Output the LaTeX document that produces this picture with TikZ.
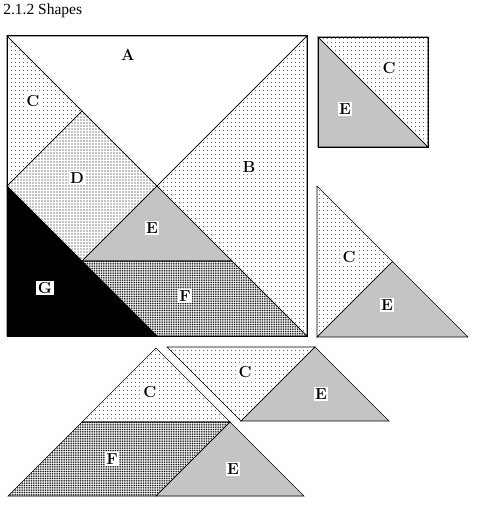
\documentclass[tikz,border=0pt]{standalone}
\usepackage{fontspec}
\newfontfamily\titlefont{Liberation Serif}
\usetikzlibrary{patterns.meta}

\begin{document}
\begin{tikzpicture}[x=1pt,y=-1pt,line width=0.6pt,
                every node/.style={fill=white,inner sep=1.5pt,font=\fontsize{16}{16}\selectfont\bfseries},
                sparse/.style={pattern={Dots[distance=4pt,radius=0.56pt]}},
                medium/.style={pattern={Dots[distance=3pt,radius=0.65pt]}},
                dense/.style={pattern={Dots[distance=2pt,radius=0.56pt]}},
                densest/.style={pattern={Dots[distance=1.75pt,radius=0.56pt]}}]
                \useasboundingbox (0,0) rectangle (482,510);
                \node[anchor=base west,inner sep=0pt,font=\titlefont\fontsize{15.5}{16}\selectfont] (title) at (3,15) {2.1.2 Shapes};

                % big square
                \coordinate (O) at (7,36);   \coordinate (P) at (307,36);
                \coordinate (Q) at (307,336); \coordinate (R) at (7,336);
                \coordinate (M) at (157,186); \coordinate (L) at (7,186);
                \coordinate (N) at (82,111);  \coordinate (K) at (82,261);
                \coordinate (J) at (232,261); \coordinate (H) at (157,336);
                \draw (O) -- (P) -- (M) -- cycle;
                \draw[sparse] (P) -- (Q) -- (M) -- cycle;
                \draw[sparse] (O) -- (N) -- (L) -- cycle;
                \draw[medium] (L) -- (N) -- (M) -- (K) -- cycle;
                \draw[dense] (M) -- (K) -- (J) -- cycle;
                \draw[densest] (K) -- (J) -- (Q) -- (H) -- cycle;
                \draw[fill=black] (L) -- (H) -- (R) -- cycle;
                \draw[line width=1pt] (O) rectangle (Q);

                % square of C and E
                \draw[sparse] (318,37) -- (428,37) -- (428,147) -- cycle;
                \draw[dense] (318,37) -- (428,147) -- (318,147) -- cycle;
                \draw (318,37) rectangle (428,147);

                % triangle of C and E
                \draw[sparse] (317,186) -- (392.5,261.5) -- (317,337) -- cycle;
                \draw[dense] (317,337) -- (392.5,261.5) -- (468,337) -- cycle;

                % triangle of C, F and E
                \draw[sparse] (156,348) -- (82,422) -- (230,422) -- cycle;
                \draw[densest] (82,422) -- (230,422) -- (156,496) -- (8,496) -- cycle;
                \draw[dense] (230,422) -- (304,496) -- (156,496) -- cycle;

                % parallelogram of C and E
                \draw[sparse] (167,347) -- (315,347) -- (241,421) -- cycle;
                \draw[dense] (315,347) -- (389,421) -- (241,421) -- cycle;

                \foreach \name/\pos/\txt in {mainA/{(128,55)}/A, mainB/{(249,167)}/B, mainC/{(33,101)}/C,
                    mainD/{(77,178)}/D, mainE/{(152,228)}/E, mainF/{(185,296)}/F, mainG/{(45,288)}/G,
                    sqC/{(389,68)}/C, sqE/{(345,109)}/E, triC/{(349,257)}/C, triE/{(387,305)}/E,
                    botC/{(150,392)}/C, botF/{(112,459)}/F, botE/{(233,469)}/E,
                    parC/{(245,372)}/C, parE/{(321,394)}/E}
                    \node (\name) at \pos {\txt};
            \end{tikzpicture}
\end{document}
